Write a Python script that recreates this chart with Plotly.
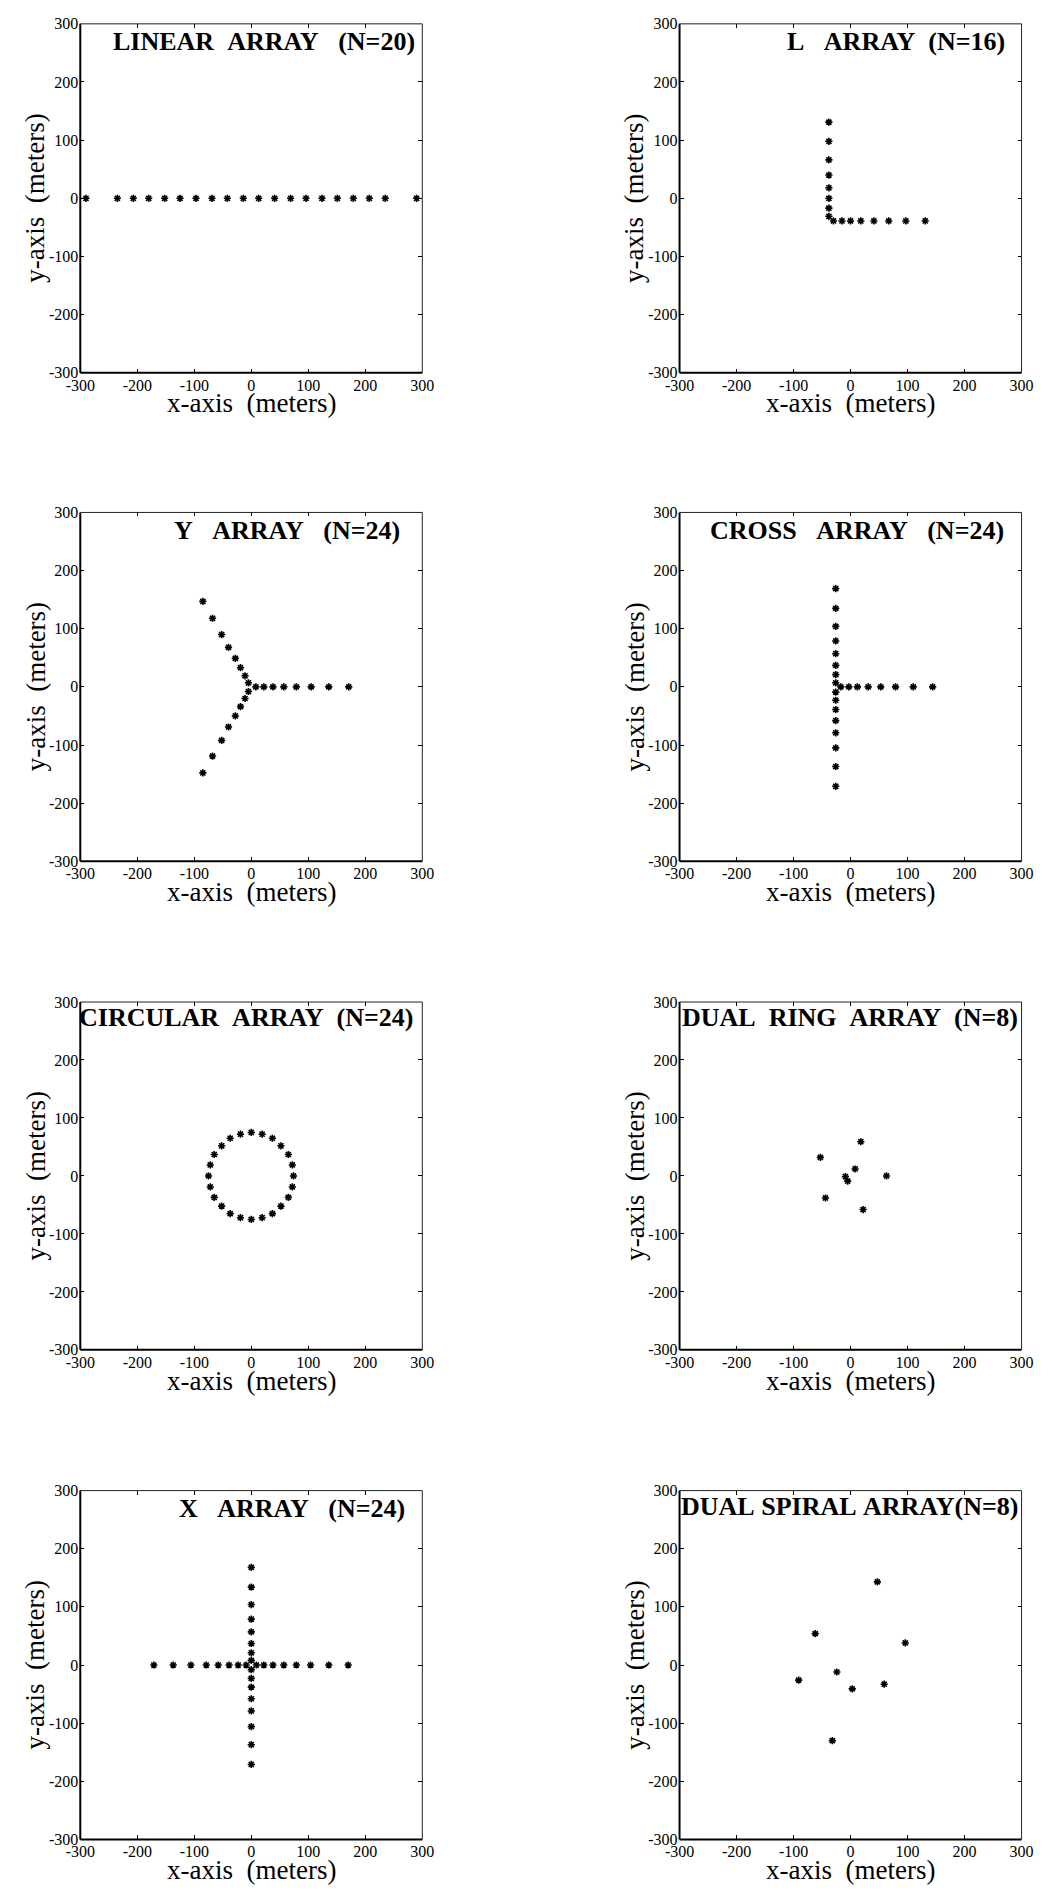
import plotly.graph_objects as go

# ---------------- data ----------------
TICK_VALUES = [-300, -200, -100, 0, 100, 200, 300]
TICK_LABELS = ["-300", "-200", "-100", "0", "100", "200", "300"]

linear_x = [-290, -235, -207, -180, -152, -125, -97, -69, -42, -14,
            13, 41, 69, 96, 124, 151, 179, 207, 235, 290]
linear_y = [0] * 20

l_x = [-38, -38, -38, -38, -38, -38, -38, -38,
       -30, -15, 0, 18, 41, 67, 97, 131]
l_y = [131, 98, 66, 40, 18, 0, -17, -31,
       -39, -39, -39, -39, -39, -39, -39, -39]

y_x = [-85, -68, -52, -40, -28, -19, -11, -5,
       -5, -11, -19, -28, -40, -52, -68, -85,
       8, 22, 38, 57, 79, 105, 136, 171]
y_y = [147, 118, 90, 68, 49, 33, 19, 7,
       -8, -20, -34, -50, -69, -92, -119, -148,
       0, 0, 0, 0, 0, 0, 0, 0]

cross_x = [-26] * 16 + [-17, -3, 12, 31, 53, 79, 110, 144]
cross_y = [169, 135, 104, 79, 57, 37, 21, 7, -9, -23, -39, -58, -79, -105, -137, -171,
           0, 0, 0, 0, 0, 0, 0, 0]

circ_x = [74, 72, 65, 52, 37, 19, 0, -19, -37, -52, -65, -72,
          -75, -72, -65, -52, -37, -19, 0, 19, 37, 52, 65, 72]
circ_y = [0, 19, 37, 52, 65, 72, 75, 72, 65, 52, 37, 19,
          0, -19, -37, -52, -65, -72, -75, -72, -65, -52, -37, -19]

ring_x = [18, -53, 8, -9, -5, 63, -44, 22]
ring_y = [59, 32, 12, -1, -9, 0, -38, -58]

x_x = [0] * 16 + [-171, -137, -106, -79, -58, -39, -23, -9, 9, 22, 38, 57, 79, 104, 136, 170]
x_y = [168, 134, 104, 79, 57, 37, 21, 8, -8, -23, -38, -58, -79, -106, -137, -171] + [0] * 16

spiral_x = [47, -62, 96, -91, -24, 3, 59, -32]
spiral_y = [143, 54, 38, -26, -12, -41, -33, -130]

TITLES = [
    "LINEAR\u00a0\u00a0ARRAY\u00a0\u00a0\u00a0(N=20)",
    "L\u00a0\u00a0\u00a0ARRAY\u00a0\u00a0(N=16)",
    "Y\u00a0\u00a0\u00a0ARRAY\u00a0\u00a0\u00a0(N=24)",
    "CROSS\u00a0\u00a0\u00a0ARRAY\u00a0\u00a0\u00a0(N=24)",
    "CIRCULAR\u00a0\u00a0ARRAY\u00a0\u00a0(N=24)",
    "DUAL\u00a0\u00a0RING\u00a0\u00a0ARRAY\u00a0\u00a0(N=8)",
    "X\u00a0\u00a0\u00a0ARRAY\u00a0\u00a0\u00a0(N=24)",
    "DUAL\u00a0SPIRAL\u00a0ARRAY(N=8)",
]
X_TITLE = "x-axis\u00a0\u00a0(meters)"
Y_TITLE = "y-axis\u00a0\u00a0(meters)"

series = [(linear_x, linear_y), (l_x, l_y), (y_x, y_y), (cross_x, cross_y),
          (circ_x, circ_y), (ring_x, ring_y), (x_x, x_y), (spiral_x, spiral_y)]

# ---------------- layout geometry (pixels) ----------------
W, H = 1055, 1898
COLS = [(67, 418), (682, 1033)]
ROWS = [(16, 368), (509, 861), (1003, 1354), (1496, 1848)]
# right end (px) and vertical centre offset of each panel's title
TITLE_POS = [(413, 18), (1018, 18), (397, 18), (1017, 18),
             (412, 16), (1031, 16), (402, 18), (1031, 16)]

FONT = "Liberation Serif"

fig = go.Figure()
annotations = []
shapes = []
layout_axes = {}

for i, (xs, ys) in enumerate(series):
    r, c = divmod(i, 2)
    x0, x1 = COLS[c]
    top, bot = ROWS[r]
    n = i + 1
    xa = "xaxis" if n == 1 else f"xaxis{n}"
    ya = "yaxis" if n == 1 else f"yaxis{n}"
    xr = "x" if n == 1 else f"x{n}"
    yr = "y" if n == 1 else f"y{n}"

    fig.add_trace(go.Scatter(
        x=xs, y=ys, mode="markers", xaxis=xr, yaxis=yr, showlegend=False,
        marker=dict(symbol="asterisk-open", size=6, color="black",
                    line=dict(color="black", width=1.6)),
        cliponaxis=False,
    ))

    axis_common = dict(
        range=[-300, 300], tickmode="array", tickvals=TICK_VALUES, ticktext=TICK_LABELS,
        ticks="inside", ticklen=4, tickwidth=1, tickcolor="black",
        showline=False, mirror="ticks", showgrid=False, zeroline=False,
        tickfont=dict(family=FONT, size=16, color="black"), fixedrange=True,
    )
    layout_axes[xa] = dict(axis_common, domain=[x0 / W, x1 / W], anchor=yr,
                           ticklabelstandoff=1)
    layout_axes[ya] = dict(axis_common, domain=[1 - bot / H, 1 - top / H], anchor=xr,
                           ticklabelstandoff=1)

    # frame: thicker left/bottom, thinner top/right
    shapes.append(dict(type="line", xref=f"{xr} domain", yref=f"{yr} domain",
                       x0=0, x1=1, y0=0, y1=0, line=dict(color="black", width=2)))
    shapes.append(dict(type="line", xref=f"{xr} domain", yref=f"{yr} domain",
                       x0=0, x1=0, y0=0, y1=1, line=dict(color="black", width=2)))
    shapes.append(dict(type="line", xref=f"{xr} domain", yref=f"{yr} domain",
                       x0=0, x1=1, y0=1, y1=1, line=dict(color="#222", width=1)))
    shapes.append(dict(type="line", xref=f"{xr} domain", yref=f"{yr} domain",
                       x0=1, x1=1, y0=0, y1=1, line=dict(color="#222", width=1)))

    tx, ty = TITLE_POS[i]
    annotations.append(dict(
        text="<b>" + TITLES[i] + "</b>", xref="paper", yref="paper",
        x=tx / W, y=1 - (top + ty) / H, xanchor="right", yanchor="middle",
        showarrow=False, font=dict(family=FONT, size=26, color="black"),
    ))
    annotations.append(dict(
        text=X_TITLE, xref="paper", yref="paper",
        x=(x0 + x1) / 2 / W, y=1 - (bot + 31) / H, xanchor="center", yanchor="middle",
        showarrow=False, font=dict(family=FONT, size=27, color="black"),
    ))
    annotations.append(dict(
        text=Y_TITLE, xref="paper", yref="paper", textangle=-90,
        x=(x0 - 46) / W, y=1 - (top + bot) / 2 / H, xanchor="center", yanchor="middle",
        showarrow=False, font=dict(family=FONT, size=27, color="black"),
    ))

fig.update_layout(
    width=W, height=H, margin=dict(l=0, r=0, t=0, b=0),
    paper_bgcolor="white", plot_bgcolor="white",
    annotations=annotations, shapes=shapes,
    font=dict(family=FONT, color="black"),
    **layout_axes,
)

fig.write_html("out.html")
